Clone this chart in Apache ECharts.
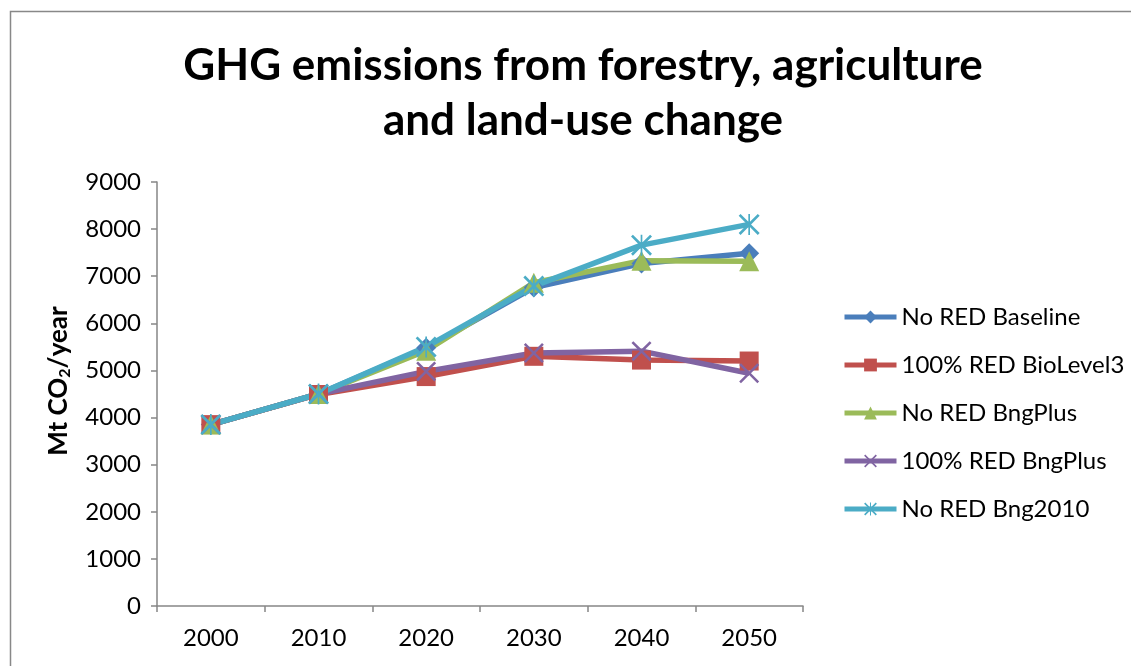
<!DOCTYPE html>
<html>
<head>
<meta charset="utf-8">
<title>GHG emissions</title>
<script src="https://cdn.jsdelivr.net/npm/echarts@6/dist/echarts.min.js"></script>
<style>
  html, body { margin: 0; padding: 0; background: #fff; }
  #main { width: 1131px; height: 666px; }
</style>
</head>
<body>
<div id="main"></div>
<script>
var years = ['2000', '2010', '2020', '2030', '2040', '2050'];
var noRedBaseline = [3850, 4500, 5480, 6760, 7270, 7490];
var redBioLevel3 = [3850, 4490, 4870, 5300, 5220, 5200];
var noRedBngPlus = [3850, 4500, 5420, 6860, 7330, 7320];
var redBngPlus = [3850, 4500, 4980, 5370, 5410, 4940];
var noRedBng2010 = [3850, 4500, 5500, 6790, 7660, 8100];

var xPath = 'path://M0,0.9L0.9,0L5,4.1L9.1,0L10,0.9L5.9,5L10,9.1L9.1,10L5,5.9L0.9,10L0,9.1L4.1,5Z';
var starPath = 'path://M0,0.9L0.9,0L5,4.1L9.1,0L10,0.9L5.9,5L10,9.1L9.1,10L5,5.9L0.9,10L0,9.1L4.1,5Z M4.6,0L5.4,0L5.4,10L4.6,10Z';

var font = 'Lato';

function makeSeries(name, data, color, symbol, size) {
    return {
        name: name,
        type: 'line',
        data: data,
        symbol: symbol,
        symbolSize: size,
        itemStyle: { color: color },
        lineStyle: { color: color, width: 5.5 },
        emphasis: { disabled: true }
    };
}

var myChart = echarts.init(document.getElementById('main'));
var option = {
    backgroundColor: '#fff',
    animation: false,
    textStyle: { fontFamily: font },
    title: {
        text: 'GHG emissions from forestry, agriculture\nand land-use change',
        left: 578,
        textAlign: 'center',
        top: 33,
        textStyle: {
            fontFamily: font,
            fontSize: 44,
            fontWeight: 'bold',
            lineHeight: 55,
            color: '#000'
        }
    },
    graphic: [
        {
            type: 'polyline',
            shape: { points: [[10.5, 666], [10.5, 11.5], [1131, 11.5]] },
            style: { stroke: '#888', lineWidth: 1.5, fill: null },
            silent: true
        }
    ],
    legend: {
        orient: 'vertical',
        left: 842,
        top: 305,
        padding: 0,
        itemWidth: 52,
        itemHeight: 16,
        itemGap: 24,
        lineStyle: { width: 5 },
        textStyle: { fontFamily: font, fontSize: 24, color: '#000' },
        data: ['No RED Baseline', '100% RED BioLevel3', 'No RED BngPlus', '100% RED BngPlus', 'No RED Bng2010']
    },
    grid: {
        left: 157,
        right: 328,
        top: 182,
        bottom: 60
    },
    xAxis: {
        type: 'category',
        data: years,
        boundaryGap: true,
        axisLine: { lineStyle: { color: '#868686', width: 1.5 } },
        axisTick: { show: true, length: 6, lineStyle: { color: '#868686', width: 1.5 } },
        axisLabel: { color: '#000', fontSize: 24, fontFamily: font, margin: 20 }
    },
    yAxis: {
        type: 'value',
        min: 0,
        max: 9000,
        interval: 1000,
        name: 'Mt CO{sub|2}/year',
        nameLocation: 'middle',
        nameGap: 84,
        nameTextStyle: {
            fontFamily: font,
            fontSize: 26,
            fontWeight: 'bold',
            color: '#000',
            padding: [0, 0, 0, 26],
            rich: {
                sub: { fontFamily: font, fontSize: 16, fontWeight: 'bold', color: '#000', padding: [13, 0, 0, 0] }
            }
        },
        axisLine: { show: true, lineStyle: { color: '#868686', width: 1.5 } },
        axisTick: { show: true, length: 6, lineStyle: { color: '#868686', width: 1.5 } },
        splitLine: { show: false },
        axisLabel: {
            color: '#000',
            fontSize: 24,
            fontFamily: font,
            margin: 16,
            formatter: function (v) { return String(v); }
        }
    },
    series: [
        makeSeries('No RED Baseline', noRedBaseline, '#4A7EBB', 'diamond', 20),
        makeSeries('100% RED BioLevel3', redBioLevel3, '#C0504D', 'rect', 19),
        makeSeries('No RED BngPlus', noRedBngPlus, '#9BBB59', 'triangle', 20),
        makeSeries('100% RED BngPlus', redBngPlus, '#8064A2', xPath, 20),
        makeSeries('No RED Bng2010', noRedBng2010, '#4BACC6', starPath, 21)
    ]
};

if (option && typeof option === "object") {
    myChart.setOption(option, true);
}
</script>
</body>
</html>
